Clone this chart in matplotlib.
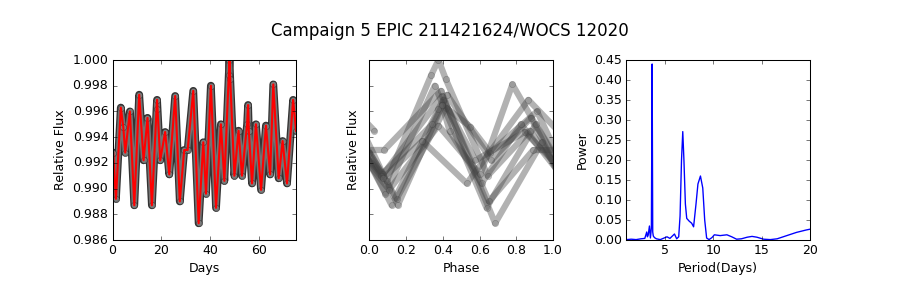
#!/usr/bin/env python3
"""
plot.py - K2 Campaign 5 light curve, phase fold and periodogram for EPIC 211421624.

Three panels: relative flux vs days, flux folded on the rotation period,
and Lomb-Scargle power vs period. Writes out.png (900x300).
"""
from __future__ import annotations

import numpy as np
import matplotlib
matplotlib.use("Agg")
import matplotlib.pyplot as plt
from matplotlib.ticker import FormatStrFormatter

TITLE = "Campaign 5 EPIC 211421624/WOCS 12020"

# light curve (days, relative flux)
days = [0.3, 1.4, 3.4, 4.4, 5.2, 7.1, 8.9, 10.9, 12.7, 14.3, 16.1, 18.0, 18.2,
        19.5, 21.5, 23.2, 25.6, 27.5, 29.3, 30.7, 33.0, 35.2, 37.1, 38.2, 40.2,
        42.3, 44.3, 45.7, 47.5, 47.8, 48.1, 49.8, 51.5, 52.9, 55.0, 55.4, 55.7,
        57.0, 58.6, 60.7, 62.7, 64.4, 65.7, 67.9, 69.5, 71.3, 73.8, 75.0]
flux = [0.9928, 0.9892, 0.9963, 0.9948, 0.9928, 0.9960, 0.9887, 0.9973, 0.9922,
        0.9955, 0.9887, 0.9962, 0.9969, 0.9922, 0.9944, 0.9911, 0.9972, 0.9890,
        0.9930, 0.9930, 0.9976, 0.9873, 0.9936, 0.9896, 0.9980, 0.9885, 0.9950,
        0.9906, 0.9988, 1.0000, 0.9985, 0.9910, 0.9945, 0.9910, 0.9950, 0.9965,
        0.9945, 0.9904, 0.9950, 0.9899, 0.9949, 0.9911, 0.9981, 0.9908, 0.9937,
        0.9904, 0.9969, 0.9945]

# fold parameters (days)
FOLD_PERIOD = 7.45
FOLD_T0 = 30.1

# periodogram
period = [1.0, 1.5, 2.0, 2.5, 2.9, 3.1, 3.17, 3.25, 3.38, 3.48, 3.58, 3.66, 3.72,
          3.78, 3.9, 4.1, 4.5, 5.2, 5.5, 5.97, 6.2, 6.41, 6.55, 6.7, 6.83, 6.95,
          7.1, 7.24, 7.5, 7.75, 7.95, 8.2, 8.4, 8.66, 8.9, 9.1, 9.3, 9.55, 9.85,
          10.1, 10.7, 11.4, 11.9, 12.4, 12.9, 13.5, 14.0, 14.5, 15.2, 15.9, 16.6,
          17.6, 18.6, 19.6, 20.0]
power = [0.001, 0.002, 0.001, 0.003, 0.004, 0.02, 0.008, 0.012, 0.035, 0.005,
         0.03, 0.44, 0.02, 0.01, 0.006, 0.003, 0.001, 0.008, 0.004, 0.015, 0.003,
         0.008, 0.06, 0.2, 0.271, 0.2, 0.09, 0.054, 0.047, 0.042, 0.033, 0.09,
         0.14, 0.16, 0.13, 0.05, 0.005, 0.001, 0.006, 0.013, 0.011, 0.013, 0.008,
         0.002, 0.003, 0.007, 0.009, 0.007, 0.002, 0.001, 0.003, 0.011, 0.019,
         0.025, 0.027]

FLUX_TICKS = [0.986, 0.988, 0.990, 0.992, 0.994, 0.996, 0.998, 1.000]


def main() -> int:
    plt.style.use("classic")
    t = np.asarray(days)
    f = np.asarray(flux)

    fig, (ax1, ax2, ax3) = plt.subplots(1, 3, figsize=(12, 4), dpi=75)
    fig.subplots_adjust(left=0.125, right=0.9, bottom=0.2, top=0.8, wspace=0.4)
    fig.suptitle(TITLE, fontsize=16, y=0.925)

    # ---- light curve: grey marker band with red line on top ----
    ax1.plot(t, f, "-", color="0.2", lw=7.5, solid_joinstyle="round", solid_capstyle="round")
    ax1.plot(t, f, "-", color="0.45", lw=5, solid_joinstyle="round", solid_capstyle="round")
    ax1.plot(t, f, "o", mfc="0.5", mec="0.1", ms=6, alpha=0.7)
    ax1.plot(t, f, "-", color="r", lw=2)
    ax1.set_xlim(0, 75)
    ax1.set_ylim(0.986, 1.000)
    ax1.set_yticks(FLUX_TICKS)
    ax1.yaxis.set_major_formatter(FormatStrFormatter("%.3f"))
    ax1.set_xticks([0, 20, 40, 60])
    ax1.set_xlabel("Days")
    ax1.set_ylabel("Relative Flux")

    # ---- phase fold: draw every cycle, clipped to [0, 1] ----
    cyc = (t - FOLD_T0) / FOLD_PERIOD
    for k in range(int(np.floor(cyc.min())), int(np.floor(cyc.max())) + 1):
        ax2.plot(cyc - k, f, "-", color="0.25", lw=6, alpha=0.4,
                 solid_joinstyle="round", solid_capstyle="round")
        ax2.plot(cyc - k, f, "o", mfc="0.45", mec="0.15", ms=6, alpha=0.35)
    ax2.set_xlim(0, 1)
    ax2.set_ylim(0.986, 1.000)
    ax2.set_yticks(FLUX_TICKS)
    ax2.set_yticklabels([])
    ax2.set_xticks([0, 0.2, 0.4, 0.6, 0.8, 1.0])
    ax2.xaxis.set_major_formatter(FormatStrFormatter("%.1f"))
    ax2.set_xlabel("Phase")
    ax2.set_ylabel("Relative Flux")

    # ---- periodogram ----
    ax3.plot(period, power, "-", color="b", lw=1.3)
    ax3.set_xlim(1, 20)
    ax3.set_ylim(0, 0.45)
    ax3.set_xticks([5, 10, 15, 20])
    ax3.set_yticks(np.arange(0, 0.451, 0.05))
    ax3.yaxis.set_major_formatter(FormatStrFormatter("%.2f"))
    ax3.set_xlabel("Period(Days)")
    ax3.set_ylabel("Power")

    fig.savefig("out.png", dpi=75)
    plt.close(fig)
    return 0


if __name__ == "__main__":
    raise SystemExit(main())
